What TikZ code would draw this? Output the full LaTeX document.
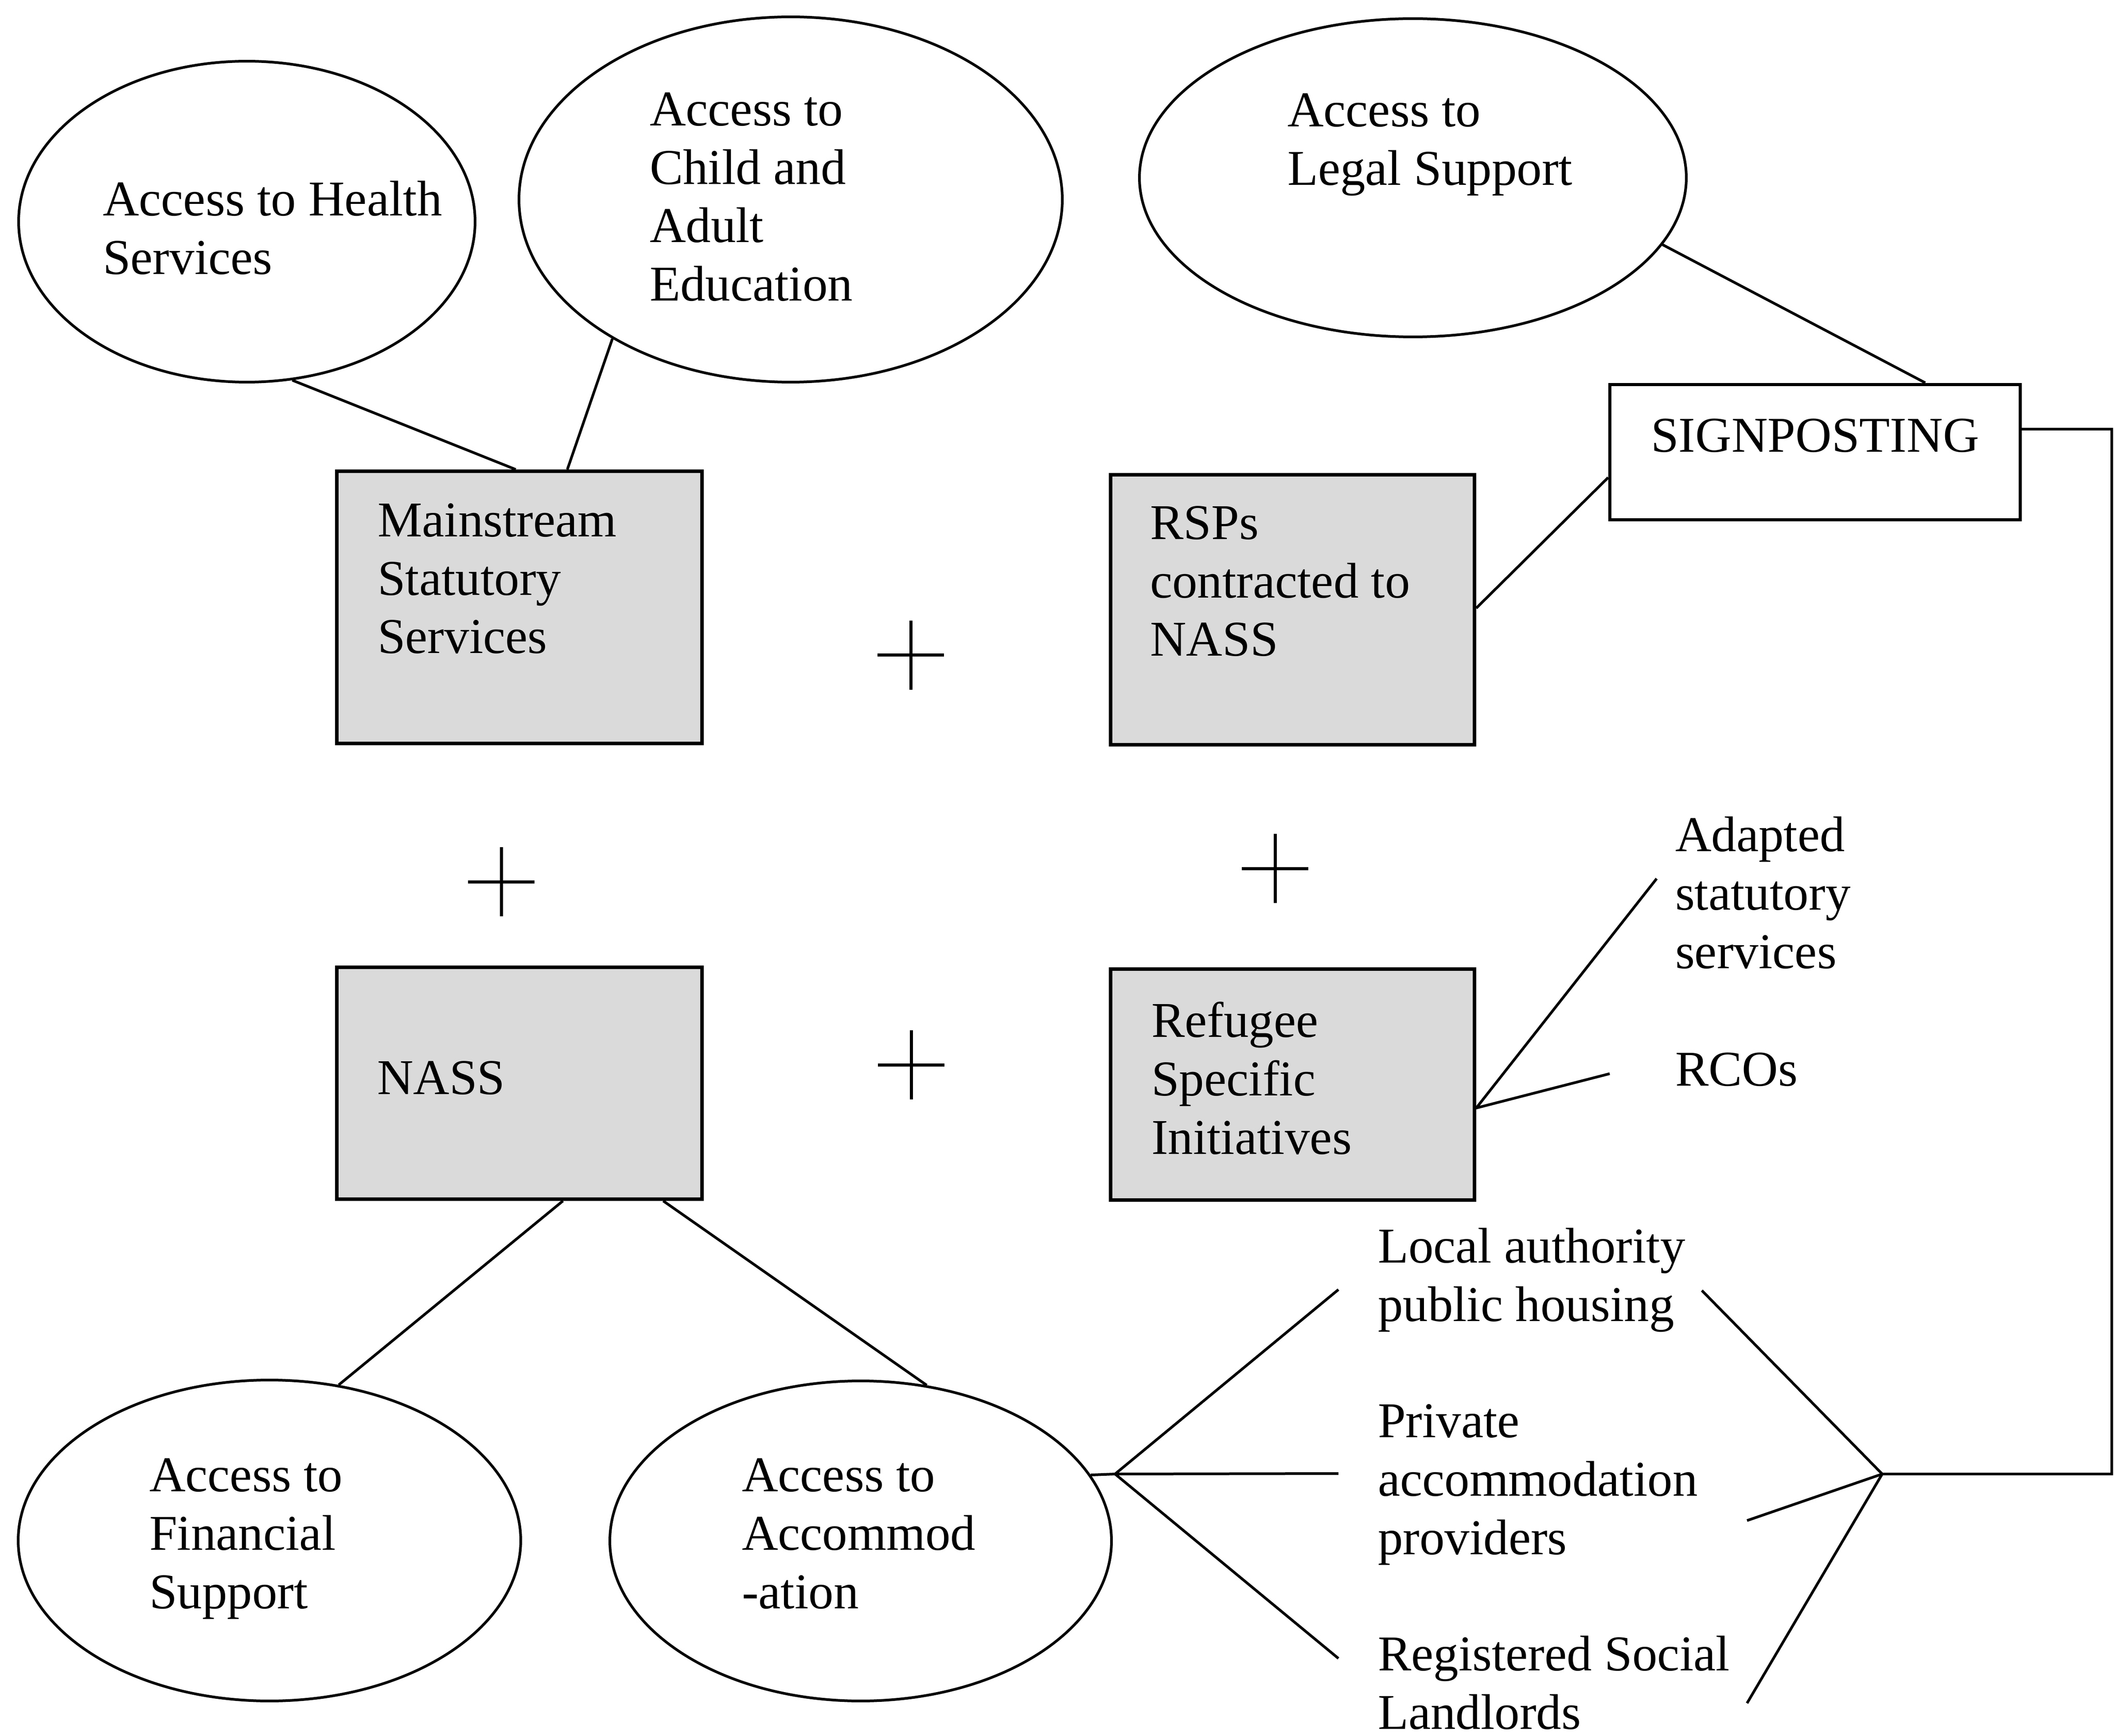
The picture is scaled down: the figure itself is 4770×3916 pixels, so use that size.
\documentclass[tikz,border=0pt]{standalone}
\usepackage{fontspec}
\setmainfont{Liberation Serif}
\usetikzlibrary{shapes.geometric,calc}
\definecolor{boxgray}{RGB}{218,218,218}
\begin{document}
\begin{tikzpicture}[x=0.1pt,y=-0.1pt,
  lbl/.style={anchor=base west,align=left,inner sep=0pt,font=\fontsize{11.3}{13.2}\selectfont},
  oval/.style={draw,ellipse,line width=0.6pt,inner sep=0pt},
  gbox/.style={draw,line width=0.8pt,fill=boxgray,inner sep=0pt},
  wbox/.style={draw,line width=0.7pt,fill=white,inner sep=0pt},
  conn/.style={line width=0.6pt},
  plussign/.pic={\draw[line width=0.7pt] (-75,0)--(75,0) (0,-78)--(0,78);}]
\useasboundingbox (0,0) rectangle (4770,3916);

% ellipses
\node[oval,minimum width=103pt,minimum height=72.4pt] (health) at (557,500) {};
\node[oval,minimum width=122.6pt,minimum height=82.4pt] (child) at (1784,450) {};
\node[oval,minimum width=123.4pt,minimum height=71.8pt] (legal) at (3188,401) {};
\node[oval,minimum width=113.4pt,minimum height=72.4pt] (fin) at (608,3475) {};
\node[oval,minimum width=113.2pt,minimum height=72.2pt] (acc) at (1942,3476) {};

% boxes
\node[gbox,minimum width=82.4pt,minimum height=61.4pt] (mss) at (1172,1370) {};
\node[gbox,minimum width=82.1pt,minimum height=60.9pt] (rsp) at (2916.5,1375.5) {};
\node[gbox,minimum width=82.4pt,minimum height=52.3pt] (nass) at (1172,2443.5) {};
\node[gbox,minimum width=82.1pt,minimum height=52.1pt] (rsi) at (2916.5,2446.5) {};
\node[wbox,minimum width=92.6pt,minimum height=30.6pt] (sign) at (4095,1020) {};

% texts (anchored at the baseline of their last line)
\node[lbl] (thealth) at (230,619) {Access to Health\\Services};
\node[lbl] (tchild) at (1464,679) {Access to\\Child and\\Adult\\Education};
\node[lbl] (tlegal) at (2903,418) {Access to\\Legal Support};
\node[lbl] (tsign) at (3723,1020) {SIGNPOSTING};
\node[lbl] (tmss) at (850,1474) {Mainstream\\Statutory\\Services};
\node[lbl] (trsp) at (2593,1480) {RSPs\\contracted to\\NASS};
\node[lbl] (tnass) at (849,2468) {NASS};
\node[lbl] (trsi) at (2596,2603) {Refugee\\Specific\\Initiatives};
\node[lbl] (tadapt) at (3778,2184) {Adapted\\statutory\\services};
\node[lbl] (trco) at (3778,2449) {RCOs};
\node[lbl] (tfin) at (335,3628) {Access to\\Financial\\Support};
\node[lbl] (tacc) at (1672,3628) {Access to\\Accommod\\-ation};
\node[lbl] (tlocal) at (3107,2980) {Local authority\\public housing};
\node[lbl] (tpriv) at (3107,3506) {Private\\accommodation\\providers};
\node[lbl] (trsl) at (3107,3900) {Registered Social\\Landlords};

% plus signs
\pic at (2055,1478) {plussign};
\pic at (1131,1989) {plussign};
\pic at (2877,1959) {plussign};
\pic at (2056,2402) {plussign};

% free-end coordinates
\coordinate (adaptend) at (3738,1982);
\coordinate (rcoend) at (3632,2422);
\coordinate (jl) at (2516,3325);
\coordinate (l1) at (3020,2909);
\coordinate (l2) at (3020,3324);
\coordinate (l3) at (3020,3741);
\coordinate (jr) at (4247,3325);
\coordinate (r1) at (3840,2911);
\coordinate (r2) at (3942,3430);
\coordinate (r3) at (3942,3842);
\coordinate (rail) at (4765,2000);

% connectors
\draw[conn] (health.-74) -- ($(mss.north west)!0.49!(mss.north east)$);
\draw[conn] (child.-142.6) -- ($(mss.north west)!0.63!(mss.north east)$);
\draw[conn] (legal.-15.6) -- ($(sign.north west)!0.767!(sign.north east)$);
\draw[conn] ($(rsp.north east)!0.494!(rsp.south east)$) -- ($(sign.north west)!0.683!(sign.south west)$);
\draw[conn] (adaptend) -- ($(rsi.north east)!0.6!(rsi.south east)$) -- (rcoend);
\draw[conn] ($(nass.south west)!0.618!(nass.south east)$) -- (fin.66);
\draw[conn] ($(nass.south west)!0.89!(nass.south east)$) -- (acc.67);
\draw[conn] (acc.16) -- (jl);
\draw[conn] (l1) -- (jl) -- (l3);
\draw[conn] (jl) -- (l2);
\draw[conn] (r1) -- (jr) -- (r3);
\draw[conn] (r2) -- (jr);
\draw[conn] ($(sign.north east)!0.333!(sign.south east)$) -| (rail) |- (jr);
\end{tikzpicture}
\end{document}
